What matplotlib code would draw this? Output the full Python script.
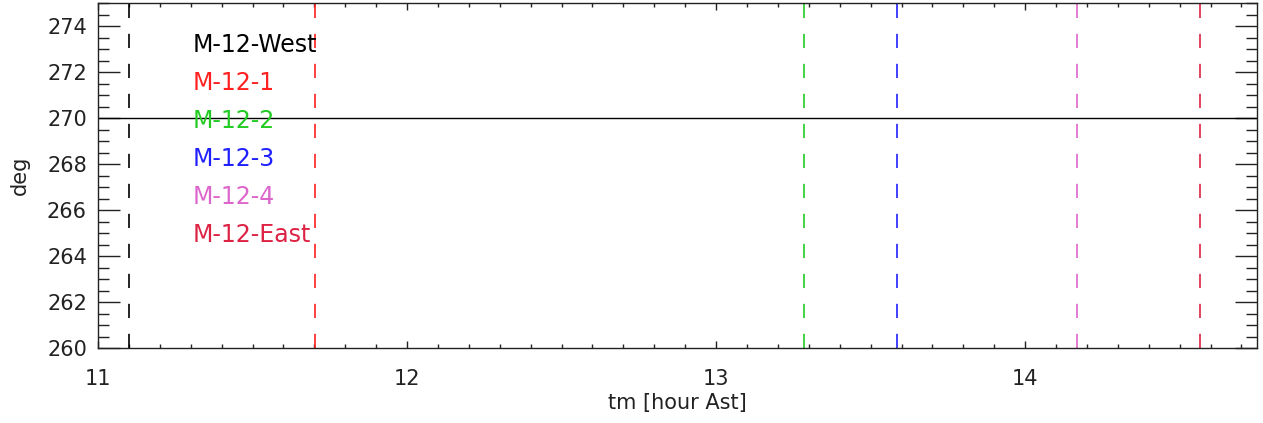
import numpy as np
import matplotlib.pyplot as plt
from matplotlib.ticker import MultipleLocator

# data
labels = ['M-12-West', 'M-12-1', 'M-12-2', 'M-12-3', 'M-12-4', 'M-12-East']
colors = ['#000000', '#ff2020', '#22cc22', '#2020ff', '#dd66cc', '#dd2244']
times = [11.10, 11.702, 13.285, 13.586, 14.168, 14.566]
ref_deg = 270.0

plt.rcParams['font.family'] = ['DejaVu Sans']

fig = plt.figure(figsize=(12.63, 4.23), dpi=100)
ax = fig.add_axes([0.0776, 0.1773, 0.9176, 0.8156])

ax.axhline(ref_deg, color='black', lw=1.0)
for t, c in zip(times, colors):
    ax.axvline(t, color=c, lw=1.2, dashes=(8.5, 9.5))

ax.set_xlim(11, 14.75)
ax.set_ylim(260, 275)

ax.xaxis.set_major_locator(MultipleLocator(1))
ax.xaxis.set_minor_locator(MultipleLocator(0.1))
ax.yaxis.set_major_locator(MultipleLocator(2))
ax.yaxis.set_minor_locator(MultipleLocator(0.5))
ax.tick_params(which='both', direction='in', top=True, right=True, width=1.0,
               labelsize=15, colors='#222222')
ax.tick_params(axis='x', which='major', length=5, pad=15)
ax.tick_params(axis='x', which='minor', length=3)
ax.tick_params(axis='y', which='major', length=16, pad=8)
ax.tick_params(axis='y', which='minor', length=8)
for s in ax.spines.values():
    s.set_linewidth(1.0)
    s.set_color('#222222')

ax.set_xlabel('tm [hour Ast]', fontsize=15, labelpad=3, color='#222222')
ax.set_ylabel('deg', fontsize=15, labelpad=12, color='#222222')

for i, (lab, c) in enumerate(zip(labels, colors)):
    ax.text(0.082, 0.878 - i * 0.110, lab, color=c, fontsize=17,
            transform=ax.transAxes, va='center', ha='left')

fig.savefig('out.png', dpi=100)
